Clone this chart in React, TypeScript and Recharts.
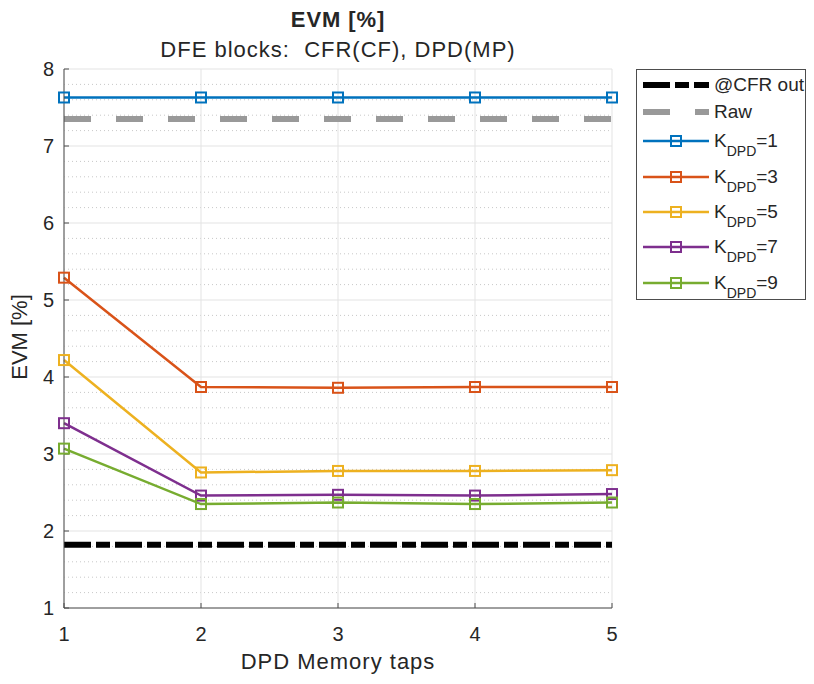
import React from 'react';
import { LineChart, Line, XAxis, YAxis, CartesianGrid } from 'recharts';

// DPD memory taps on the x axis
const taps = [1, 2, 3, 4, 5];

// EVM [%] per K_DPD
const evmK1 = [7.63, 7.63, 7.63, 7.63, 7.63];
const evmK3 = [5.29, 3.87, 3.86, 3.87, 3.87];
const evmK5 = [4.22, 2.76, 2.78, 2.78, 2.79];
const evmK7 = [3.40, 2.46, 2.47, 2.46, 2.48];
const evmK9 = [3.07, 2.35, 2.37, 2.35, 2.37];

// reference levels
const evmCfrOut = [1.82, 1.82, 1.82, 1.82, 1.82];
const evmRaw = [7.35, 7.35, 7.35, 7.35, 7.35];

const yMajor = [1, 2, 3, 4, 5, 6, 7, 8];
const yMinor = [
  1.2, 1.4, 1.6, 1.8, 2.2, 2.4, 2.6, 2.8, 3.2, 3.4, 3.6, 3.8, 4.2, 4.4,
  4.6, 4.8, 5.2, 5.4, 5.6, 5.8, 6.2, 6.4, 6.6, 6.8, 7.2, 7.4, 7.6, 7.8,
];
const yAll = [...yMajor, ...yMinor].sort((a, b) => a - b);

const kSeries = [
  { key: 'k1', k: 1, color: '#0072BD', values: evmK1 },
  { key: 'k3', k: 3, color: '#D95319', values: evmK3 },
  { key: 'k5', k: 5, color: '#EDB120', values: evmK5 },
  { key: 'k7', k: 7, color: '#7E2F8E', values: evmK7 },
  { key: 'k9', k: 9, color: '#77AC30', values: evmK9 },
];

const data = taps.map((tap, i) => {
  const row: any = { tap, cfr: evmCfrOut[i], raw: evmRaw[i] };
  kSeries.forEach((s) => (row[s.key] = s.values[i]));
  return row;
});

const FONT = '"Liberation Sans", Arial, sans-serif';
const TEXT = '#262626';
const AXIS = '#4d4d4d';
const CFR_DASH = '27 5 14 5';
const RAW_DASH = '27 25';

const squareDot = (color: string) => (props: any) => {
  const { cx, cy, index } = props;
  if (cx == null || cy == null) return <g key={index} />;
  return (
    <rect key={index} x={cx - 5} y={cy - 5} width={10} height={10}
      fill="none" stroke={color} strokeWidth={2} />
  );
};

const noLabel = () => <g />;

function LegendBox() {
  const rowCenters = [15, 42, 71, 107, 142, 177, 213];
  const sample = (kind: string, color: string) => (
    <svg width={66} height={24} style={{ display: 'block' }}>
      {kind === 'cfr' && <line x1={0} y1={12} x2={66} y2={12} stroke="#000" strokeWidth={6} strokeDasharray={CFR_DASH} />}
      {kind === 'raw' && <line x1={0} y1={12} x2={66} y2={12} stroke="#999999" strokeWidth={6} strokeDasharray={RAW_DASH} />}
      {kind === 'k' && (
        <>
          <line x1={0} y1={12} x2={66} y2={12} stroke={color} strokeWidth={2.5} />
          <rect x={28} y={7} width={10} height={10} fill="none" stroke={color} strokeWidth={2} />
        </>
      )}
    </svg>
  );
  const rows = [
    { kind: 'cfr', color: '#000', label: <span>@CFR out</span> },
    { kind: 'raw', color: '#999', label: <span>Raw</span> },
    ...kSeries.map((s) => ({
      kind: 'k',
      color: s.color,
      label: (
        <span>
          K<span style={{ fontSize: 14, position: 'relative', top: 9 }}>DPD</span>={s.k}
        </span>
      ),
    })),
  ];
  return (
    <div style={{
      position: 'absolute', left: 636, top: 69, width: 170, height: 231,
      border: `1px solid ${AXIS}`, background: '#fff', boxSizing: 'border-box',
      fontFamily: FONT, fontSize: 19, color: TEXT,
    }}>
      {rows.map((r, i) => (
        <div key={i} style={{
          position: 'absolute', left: 6, top: rowCenters[i] - 12, height: 24,
          display: 'flex', alignItems: 'center', whiteSpace: 'nowrap',
        }}>
          {sample(r.kind, r.color)}
          <div style={{ marginLeft: 5, lineHeight: '24px' }}>{r.label}</div>
        </div>
      ))}
    </div>
  );
}

export default function App() {
  return (
    <div style={{ position: 'absolute', left: 0, top: 0, width: 814, height: 684, background: '#fff', fontFamily: FONT, color: TEXT }}>
      <div style={{ position: 'absolute', left: 138, width: 400, top: 8, textAlign: 'center', fontSize: 22, fontWeight: 'bold', lineHeight: '24px', letterSpacing: 0.9 }}>
        EVM [%]
      </div>
      <div style={{ position: 'absolute', left: 88, width: 500, top: 38, textAlign: 'center', fontSize: 22, lineHeight: '24px', letterSpacing: 1 }}>
        DFE blocks:&nbsp; CFR(CF), DPD(MP)
      </div>
      <div style={{ position: 'absolute', left: 20, top: 337, width: 0, height: 0 }}>
        <div style={{ position: 'absolute', width: 200, left: -100, top: -13, textAlign: 'center', fontSize: 22, lineHeight: '26px', transform: 'rotate(-90deg)' }}>
          EVM [%]
        </div>
      </div>
      <div style={{ position: 'absolute', left: 188, width: 300, top: 649, textAlign: 'center', fontSize: 22, lineHeight: '26px', letterSpacing: 1 }}>
        DPD Memory taps
      </div>

      <div style={{ position: 'absolute', left: 0, top: 0 }}>
        <LineChart width={814} height={684} data={data} margin={{ top: 69, right: 202, bottom: 36, left: 0 }}>
          <CartesianGrid horizontalValues={yMinor} vertical={false} stroke="#c8c8c8" strokeDasharray="1 3" />
          <CartesianGrid horizontalValues={yMajor} verticalValues={taps} stroke="#e3e3e3" />
          <XAxis dataKey="tap" type="number" domain={[1, 5]} ticks={taps} interval={0}
            height={40} tickSize={-5} tickMargin={24}
            stroke={AXIS} tick={{ fill: TEXT, fontSize: 20, fontFamily: FONT }} />
          <XAxis xAxisId="top" orientation="top" dataKey="tap" type="number" domain={[1, 5]} ticks={taps}
            interval={0} height={0} tickSize={-5} tick={noLabel} stroke={AXIS} />
          <YAxis type="number" domain={[1, 8]} ticks={yMajor} interval={0}
            width={64} tickSize={-5} tickMargin={15}
            stroke={AXIS} tick={{ fill: TEXT, fontSize: 20, fontFamily: FONT }} />
          <YAxis yAxisId="right" orientation="right" type="number" domain={[1, 8]} ticks={yAll}
            interval={0} width={0} tickSize={-4} tick={noLabel} stroke={AXIS} />
          <Line dataKey="cfr" stroke="#000" strokeWidth={6} strokeDasharray={CFR_DASH}
            dot={false} activeDot={false} isAnimationActive={false} />
          <Line dataKey="raw" stroke="#999999" strokeWidth={6} strokeDasharray={RAW_DASH}
            dot={false} activeDot={false} isAnimationActive={false} />
          {kSeries.map((s) => (
            <Line key={s.key} dataKey={s.key} stroke={s.color} strokeWidth={2.5}
              dot={squareDot(s.color)} activeDot={false} isAnimationActive={false} />
          ))}
        </LineChart>
      </div>

      <LegendBox />
    </div>
  );
}
